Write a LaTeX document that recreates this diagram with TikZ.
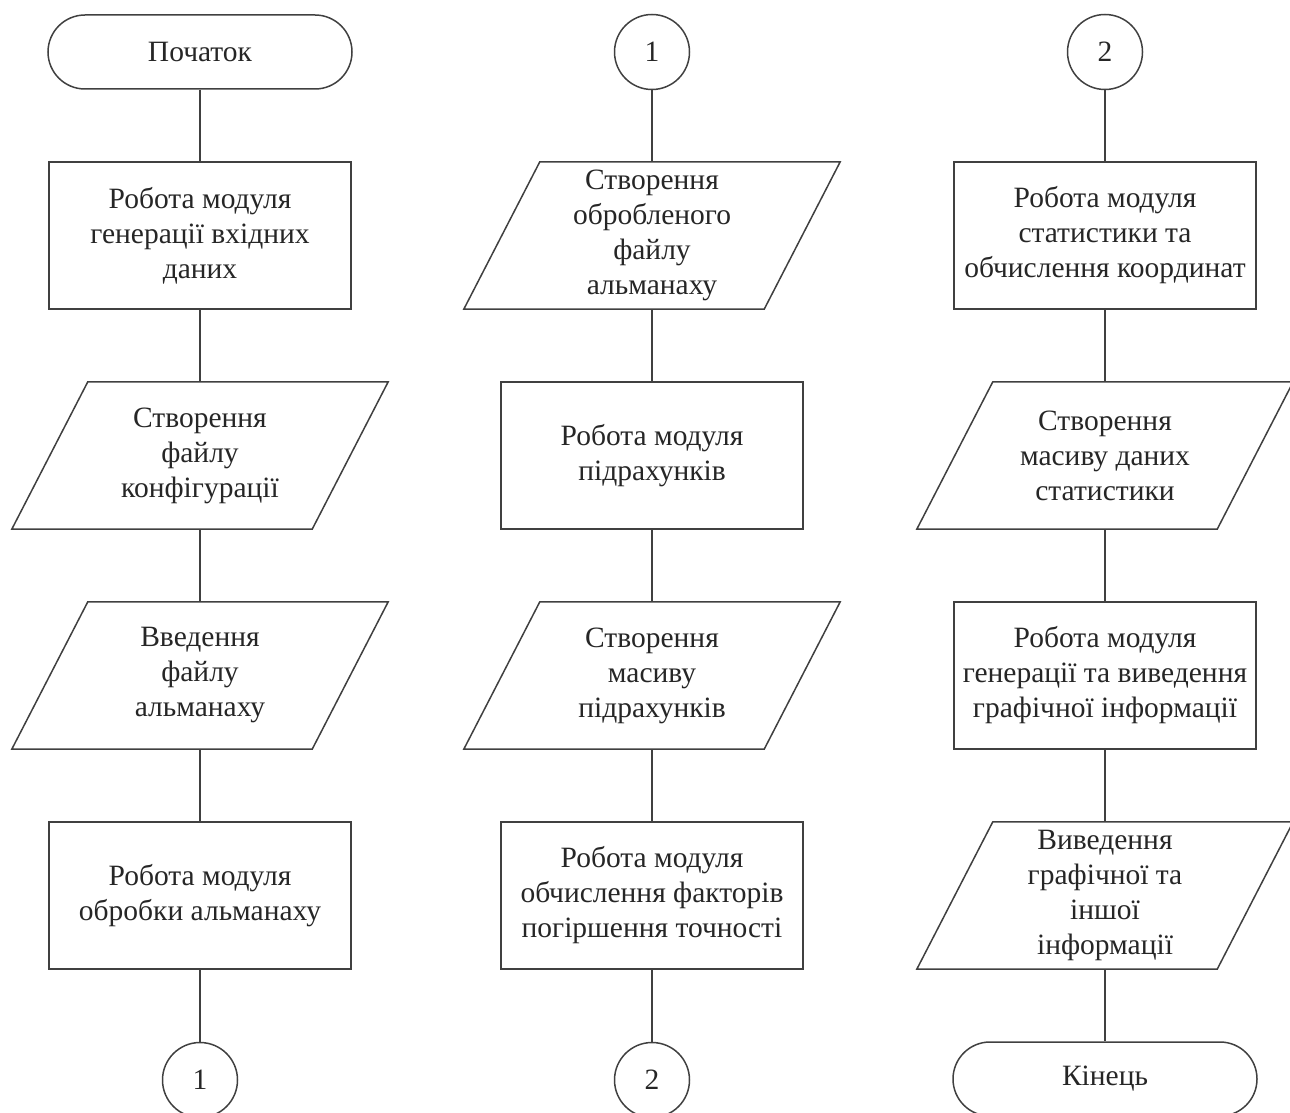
\documentclass[tikz,border=0pt]{standalone}
\usepackage{fontspec}
\setmainfont{Liberation Serif}
\usetikzlibrary{positioning}
\begin{document}
\begin{tikzpicture}[x=1pt,y=-1pt,
  every node/.style={font=\fontsize{29.5}{35}\selectfont, text=black!85, align=center, inner sep=0pt},
  line/.style={draw=black!75, line width=1.5pt},
  procbox/.style={line, rectangle, minimum width=302pt, minimum height=147pt},
  iobox/.style={rectangle, minimum width=300pt, minimum height=147pt},
  termbox/.style={line, rectangle, rounded corners=37pt, minimum width=304pt, minimum height=74pt},
  connbox/.style={line, circle, minimum size=75pt}]
\useasboundingbox (0,0) rectangle (1290,1113);
% column 1
\node[termbox] (start) at (200,52) {Початок};
\node[procbox] (a1) at (200,235.5) {Робота модуля\\генерації вхідних\\даних};
\node[iobox] (a2) at (200,455.5) {Створення\\файлу\\конфігурації};
\node[iobox] (a3) at (200,675.5) {Введення\\файлу\\альманаху};
\node[procbox] (a4) at (200,895.5) {Робота модуля\\обробки альманаху};
\node[connbox] (c1a) at (200,1080) {1};
% column 2
\node[connbox] (c1b) at (652,52) {1};
\node[iobox] (b1) at (652,235.5) {Створення\\обробленого\\файлу\\альманаху};
\node[procbox] (b2) at (652,455.5) {Робота модуля\\підрахунків};
\node[iobox] (b3) at (652,675.5) {Створення\\масиву\\підрахунків};
\node[procbox] (b4) at (652,895.5) {Робота модуля\\обчислення факторів\\погіршення точності};
\node[connbox] (c2a) at (652,1080) {2};
% column 3
\node[connbox] (c2b) at (1105,52) {2};
\node[procbox] (d1) at (1105,235.5) {Робота модуля\\статистики та\\обчислення координат};
\node[iobox] (d2) at (1105,455.5) {Створення\\масиву даних\\статистики};
\node[procbox] (d3) at (1105,675.5) {Робота модуля\\генерації та виведення\\графічної інформації};
\node[iobox] (d4) at (1105,895.5) {Виведення\\графічної та\\іншої\\інформації};
\node[termbox] (stop) at (1105,1079) {Кінець};
% parallelogram outlines
\foreach \n in {a2,a3,b1,b3,d2,d4}
  \draw[line] ([xshift=38pt]\n.north west) -- ([xshift=38pt]\n.north east)
    -- ([xshift=-38pt]\n.south east) -- ([xshift=-38pt]\n.south west) -- cycle;
% connectors
\draw[line] (start) -- (a1);
\draw[line] (a1) -- (a2);
\draw[line] (a2) -- (a3);
\draw[line] (a3) -- (a4);
\draw[line] (a4) -- (c1a);
\draw[line] (c1b) -- (b1);
\draw[line] (b1) -- (b2);
\draw[line] (b2) -- (b3);
\draw[line] (b3) -- (b4);
\draw[line] (b4) -- (c2a);
\draw[line] (c2b) -- (d1);
\draw[line] (d1) -- (d2);
\draw[line] (d2) -- (d3);
\draw[line] (d3) -- (d4);
\draw[line] (d4) -- (stop);
\end{tikzpicture}
\end{document}
